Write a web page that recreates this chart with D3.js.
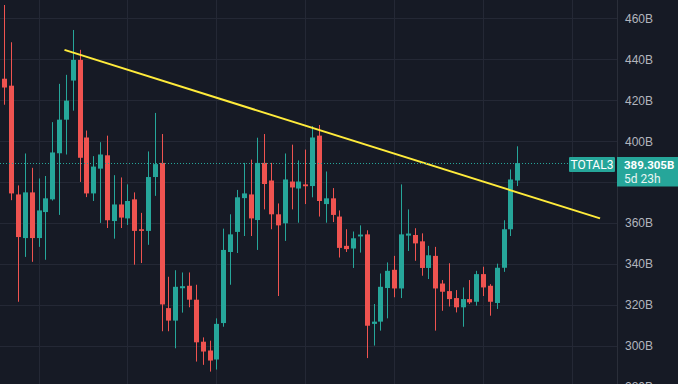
<!DOCTYPE html>
<html>
<head>
<meta charset="utf-8">
<script src="https://cdn.jsdelivr.net/npm/d3@7"></script>
<style>
  html, body { margin: 0; padding: 0; background: #161a25; overflow: hidden; }
  svg { display: block; font-family: Roboto, "Liberation Sans", sans-serif; }
</style>
</head>
<body>
<svg id="chart" width="678" height="384"></svg>
<script>
// weekly candles, values in billions
const opens  = [430.5,427.1,374.0,352.7,375.0,352.7,365.4,371.6,394.1,410.5,429.6,439.7,401.8,374.5,386.6,393.1,361.0,369.1,362.3,371.6,
                357.0,356.2,382.5,389.4,318.5,312.4,328.2,329.4,322.6,302.1,297.8,293.4,311.2,345.9,355.7,372.2,374.0,361.5,389.4,380.8,
                364.3,359.9,380.3,376.9,378.9,378.1,402.7,369.3,372.1,363.2,348.9,347.6,353.5,354.5,310.8,311.9,328.3,337.2,328.1,353.9,
                354.2,351.1,338.1,344.0,330.5,326.8,323.4,318.9,322.9,321.6,335.1,329.4,321.0,338.2,357.0,380.8];
const highs  = [466.5,448.3,378.4,394.0,387.0,381.8,383.0,409.3,428.0,432.4,454.3,444.6,405.2,392.7,399.5,402.7,383.4,382.3,378.9,375.0,
                365.0,395.0,413.8,403.5,333.8,337.0,335.9,335.9,329.9,304.2,302.6,313.5,357.3,364.3,376.2,389.4,391.0,401.7,403.5,389.4,
                369.6,394.0,398.3,390.6,395.9,407.4,407.9,385.2,377.1,366.2,357.0,355.9,358.9,356.5,320.5,335.4,340.8,344.0,378.9,366.7,
                357.5,355.0,348.9,348.4,332.2,340.4,327.3,328.6,332.2,336.7,338.7,330.2,340.2,361.4,386.2,397.5];
const lows   = [417.8,371.2,321.6,343.5,341.1,348.4,342.1,371.0,364.0,393.5,414.9,380.1,372.7,370.8,360.1,357.6,352.4,357.6,359.1,339.7,
                340.5,349.4,373.3,307.2,307.2,298.9,316.3,318.9,292.4,290.8,287.5,288.5,309.4,329.9,345.4,353.7,353.7,346.9,366.7,357.0,
                324.4,351.3,366.7,360.2,369.3,372.6,363.2,360.2,360.5,343.2,345.9,338.1,345.6,294.1,300.2,307.5,313.5,323.8,323.4,346.4,
                341.6,334.3,332.7,307.5,317.2,319.3,316.4,309.4,320.5,319.7,324.4,314.8,318.1,336.2,353.7,378.1];
const closes = [426.2,374.5,353.2,375.0,352.7,366.2,372.1,394.5,410.5,419.8,439.7,391.9,374.5,387.6,393.5,361.4,369.1,362.7,370.8,356.2,
                356.2,382.5,388.8,320.3,312.4,328.9,329.2,322.6,301.8,297.3,292.9,310.8,346.9,354.5,372.6,374.5,362.3,389.4,379.1,364.3,
                358.9,381.3,377.4,380.3,378.0,401.8,370.8,372.1,364.0,347.9,347.3,352.6,354.4,309.9,311.9,328.9,336.7,328.1,354.5,354.9,
                350.1,338.1,344.3,328.1,326.5,322.9,318.9,322.9,321.3,335.1,328.6,321.6,338.2,357.0,381.3,389.305];

const yTicks = [280, 300, 320, 340, 360, 380, 400, 420, 440, 460];
const gridIdx = [5, 18, 31, 44, 57, 70, 83];
// trend line anchors: candle index, value
const trendIdx = [8.8, 87.1];
const trendVal = [444.6, 362.3];

const symbol = "TOTAL3";
const lastPrice = 389.305;
const countdown = "5d 23h";

const svg = d3.select("#chart");
const W = 678, H = 384, plotRight = 617;

const x = d3.scaleLinear().domain([0, 75]).range([4.3, 517.3]);
const y = d3.scaleLinear().domain([300, 460]).range([346, 18.3]);

const up = "#26a69a", down = "#ef5350", grid = "#242835";

svg.append("rect").attr("width", W).attr("height", H).attr("fill", "#161a25");

// grid
const g = svg.append("g");
g.selectAll(".hg").data(yTicks).join("line")
  .attr("x1", 0).attr("x2", plotRight)
  .attr("y1", d => Math.round(y(d)) + 0.5).attr("y2", d => Math.round(y(d)) + 0.5)
  .attr("stroke", grid);
g.selectAll(".vg").data(gridIdx).join("line")
  .attr("x1", d => Math.round(x(d)) + 0.5).attr("x2", d => Math.round(x(d)) + 0.5)
  .attr("y1", 0).attr("y2", H)
  .attr("stroke", grid);

// candles
const candles = opens.map((o, i) => ({i, o, h: highs[i], l: lows[i], c: closes[i]}));
const cg = svg.append("g");
cg.selectAll(".wick").data(candles).join("line")
  .attr("x1", d => Math.round(x(d.i)) + 0.5).attr("x2", d => Math.round(x(d.i)) + 0.5)
  .attr("y1", d => y(d.h)).attr("y2", d => y(d.l))
  .attr("stroke", d => d.c >= d.o ? up : down);
cg.selectAll(".body").data(candles).join("rect")
  .attr("x", d => Math.round(x(d.i)) - 2)
  .attr("width", 5)
  .attr("y", d => y(Math.max(d.o, d.c)))
  .attr("height", d => Math.max(1, Math.abs(y(d.o) - y(d.c))))
  .attr("fill", d => d.c >= d.o ? up : down);

// trend line
svg.append("line")
  .attr("x1", x(trendIdx[0])).attr("y1", y(trendVal[0]))
  .attr("x2", x(trendIdx[1])).attr("y2", y(trendVal[1]))
  .attr("stroke", "#ffeb3b").attr("stroke-width", 2);

// last price line
const py = Math.round(y(lastPrice)) + 0.5;
svg.append("line")
  .attr("x1", 0).attr("x2", 569).attr("y1", py).attr("y2", py)
  .attr("stroke", up).attr("stroke-dasharray", "1,2");

// right axis
svg.append("rect").attr("x", plotRight).attr("y", 0).attr("width", W - plotRight).attr("height", H).attr("fill", "#161a25");
svg.append("line").attr("x1", plotRight + 0.5).attr("x2", plotRight + 0.5).attr("y1", 0).attr("y2", H).attr("stroke", "#2a2e39");

const axis = svg.append("g")
  .attr("transform", `translate(${plotRight},0)`)
  .call(d3.axisRight(y).tickValues(yTicks).tickSize(0).tickPadding(8).tickFormat(d => d + "B"));
axis.select(".domain").remove();
axis.selectAll("text").attr("fill", "#b2b5be").style("font-size", "12px");

// labels at last price
svg.append("rect").attr("x", 569).attr("y", py - 6.5).attr("width", 46).attr("height", 15)
  .attr("fill", up).attr("rx", 1);
svg.append("text").attr("x", 592).attr("y", py + 5).attr("text-anchor", "middle")
  .attr("fill", "#fff").style("font-size", "12px").text(symbol);

svg.append("rect").attr("x", plotRight).attr("y", py - 6.5).attr("width", W - plotRight).attr("height", 29.5)
  .attr("fill", up);
svg.append("text").attr("x", 624).attr("y", py + 5).attr("fill", "#fff")
  .style("font-size", "11.5px").style("font-weight", "bold").text(lastPrice.toFixed(3) + "B");
svg.append("text").attr("x", 624).attr("y", py + 19).attr("fill", "#e8f5f3")
  .style("font-size", "12px").text(countdown);
</script>
</body>
</html>
